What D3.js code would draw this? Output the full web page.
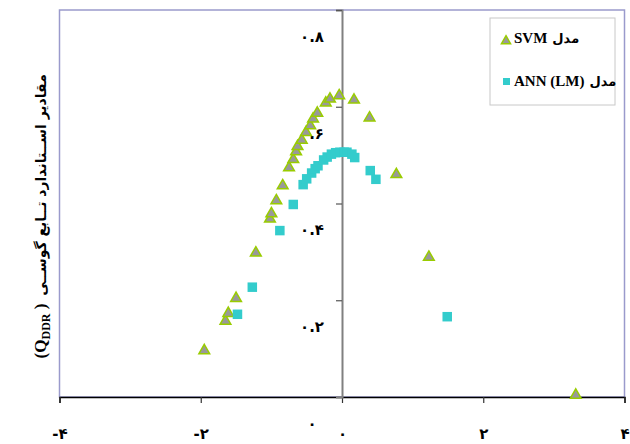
<!DOCTYPE html>
<html>
<head>
<meta charset="utf-8">
<script src="https://cdn.jsdelivr.net/npm/d3@7"></script>
<style>
  html, body { margin: 0; padding: 0; background: #fff; }
  svg { display: block; }
</style>
</head>
<body>
<div id="chart"></div>
<script>
// ── Data ───────────────────────────────────────────────
var svmX = [-1.95, -1.65, -1.61, -1.50, -1.22, -1.02, -1.00, -0.93, -0.84, -0.75,
            -0.69, -0.65, -0.63, -0.57, -0.51, -0.45, -0.41, -0.35, -0.23, -0.17,
            -0.04, 0.17, 0.39, 0.77, 1.23, 3.31];
var svmY = [0.096, 0.157, 0.173, 0.204, 0.298, 0.368, 0.379, 0.406, 0.437, 0.474,
            0.491, 0.507, 0.518, 0.531, 0.547, 0.561, 0.575, 0.587, 0.608, 0.616,
            0.623, 0.614, 0.577, 0.460, 0.289, 0.004];

var annX = [-1.48, -1.27, -0.88, -0.69, -0.55, -0.50, -0.43, -0.38, -0.34, -0.26,
            -0.21, -0.15, -0.09, -0.03, 0.03, 0.07, 0.14, 0.18, 0.40, 0.48, 1.49];
var annY = [0.171, 0.227, 0.344, 0.398, 0.439, 0.451, 0.463, 0.472, 0.478, 0.490,
            0.496, 0.502, 0.505, 0.506, 0.506, 0.506, 0.502, 0.495, 0.468, 0.450, 0.166];

var xTicks = [-4, -2, 0, 2, 4];
var yTicks = [0, 0.2, 0.4, 0.6, 0.8];

var legendNames = ["SVM", "ANN (LM)"];
var legendWord = "مدل";
var yTitle = "مقادیر اســتاندارد تــابع گوســی";

// ── Helpers ────────────────────────────────────────────
var faDigits = "۰۱۲۳۴۵۶۷۸۹";
function fa(v) {
  return String(v).replace(/[0-9]/g, function (d) { return faDigits[+d]; });
}

var W = 630, H = 444;
var svg = d3.select("#chart").append("svg").attr("width", W).attr("height", H);

var x = d3.scaleLinear().domain([-4, 4]).range([59.5, 624.5]);
var y = d3.scaleLinear().domain([0, 0.8]).range([397, 10]);

var faFont = "'DejaVu Sans', sans-serif";
var serif = "'Liberation Serif', 'Times New Roman', serif";

// plot frame
svg.append("rect")
  .attr("x", x(-4)).attr("y", y(0.8))
  .attr("width", x(4) - x(-4)).attr("height", y(0) - y(0.8))
  .attr("fill", "#fff").attr("stroke", "#9a9acc").attr("stroke-width", 1.5);

// x axis
var xAxis = svg.append("g")
  .attr("transform", "translate(0," + y(0) + ")")
  .call(d3.axisBottom(x).tickValues(xTicks).tickSize(6)
    .tickFormat(function (d) { return d < 0 ? "-" + fa(-d) : fa(d); }));
xAxis.select(".domain").attr("stroke", "#000").attr("stroke-width", 1.5);
xAxis.selectAll(".tick line").attr("stroke", "#333").attr("stroke-width", 1.2);
xAxis.selectAll("text")
  .attr("y", 37).attr("dy", "0.35em")
  .attr("fill", "#000")
  .attr("font-family", faFont).attr("font-weight", "bold").attr("font-size", 15);

// y axis at x = 0
var yAxis = svg.append("g")
  .attr("transform", "translate(" + x(0) + ",0)")
  .call(d3.axisLeft(y).tickValues(yTicks).tickSize(6)
    .tickFormat(function (d) { return d === 0 ? fa(0) : fa(d3.format(".1f")(d)); }));
yAxis.select(".domain").attr("stroke", "#808080").attr("stroke-width", 2);
yAxis.selectAll(".tick line").attr("stroke", "#555").attr("stroke-width", 1.2);
yAxis.selectAll(".tick").filter(function (d) { return d === 0; }).select("line").remove();
yAxis.selectAll("text")
  .attr("x", -30).attr("y", 26).attr("dy", "0.35em")
  .attr("text-anchor", "middle")
  .attr("fill", "#000")
  .attr("font-family", faFont).attr("font-weight", "bold").attr("font-size", 15);

// SVM triangles
var tri = d3.symbol().type(d3.symbolTriangle).size(50);
svg.append("g").selectAll("path")
  .data(d3.range(svmX.length))
  .join("path")
  .attr("d", tri)
  .attr("transform", function (i) { return "translate(" + x(svmX[i]) + "," + y(svmY[i]) + ")"; })
  .attr("fill", "#999999")
  .attr("stroke", "#99cc00")
  .attr("stroke-width", 1.5);

// ANN squares
var s = 9.5;
svg.append("g").selectAll("rect")
  .data(d3.range(annX.length))
  .join("rect")
  .attr("x", function (i) { return x(annX[i]) - s / 2; })
  .attr("y", function (i) { return y(annY[i]) - s / 2; })
  .attr("width", s).attr("height", s)
  .attr("fill", "#33cccc");

// legend
var lg = svg.append("g");
lg.append("rect")
  .attr("x", 490).attr("y", 18).attr("width", 125).attr("height", 87)
  .attr("fill", "#fff").attr("stroke", "#c8c8c8").attr("stroke-width", 1);

var rows = [43, 86];
lg.append("path")
  .attr("d", d3.symbol().type(d3.symbolTriangle).size(36))
  .attr("transform", "translate(506," + (rows[0] - 2) + ")")
  .attr("fill", "#999999").attr("stroke", "#99cc00").attr("stroke-width", 1.5);
lg.append("rect")
  .attr("x", 503).attr("y", rows[1] - 8).attr("width", 7).attr("height", 7)
  .attr("fill", "#33cccc");

legendNames.forEach(function (name, i) {
  var t = lg.append("text")
    .attr("x", 514).attr("y", rows[i])
    .attr("font-family", serif).attr("font-weight", "bold").attr("font-size", 15)
    .attr("fill", "#000")
    .text(name);
  var w = t.node().getComputedTextLength();
  lg.append("text")
    .attr("x", 514 + w + 5).attr("y", rows[i])
    .attr("font-family", faFont).attr("font-weight", "bold").attr("font-size", 13)
    .attr("fill", "#000")
    .attr("direction", "rtl").attr("text-anchor", "end")
    .text(legendWord);
});

// y axis title (rotated)
var yt = svg.append("g").attr("transform", "translate(46,0) rotate(-90)");
var lat = yt.append("text")
  .attr("x", -331).attr("y", 0)
  .attr("text-anchor", "middle")
  .attr("font-family", serif).attr("font-weight", "bold").attr("font-size", 17)
  .attr("fill", "#000");
lat.append("tspan").text("(Q");
lat.append("tspan").attr("font-size", 12).attr("dy", 4).text("DDR");
lat.append("tspan").attr("dy", -4).text(" )");
yt.append("text")
  .attr("x", -185).attr("y", 0)
  .attr("text-anchor", "middle")
  .attr("direction", "rtl")
  .attr("font-family", faFont).attr("font-weight", "bold").attr("font-size", 14)
  .attr("fill", "#000")
  .text(yTitle);
</script>
</body>
</html>
